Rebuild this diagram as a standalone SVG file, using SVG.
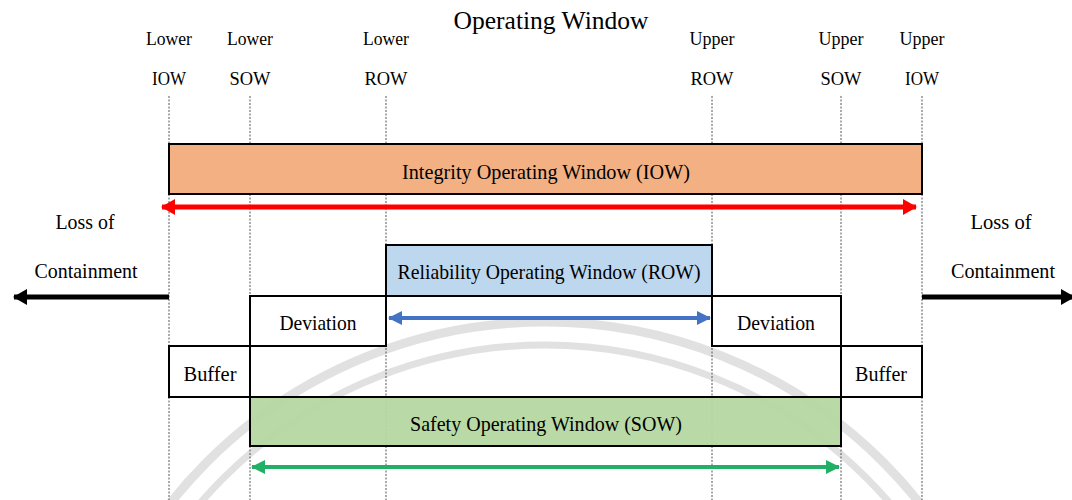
<svg xmlns="http://www.w3.org/2000/svg" width="1072" height="500" viewBox="0 0 1072 500">
  <style>
    text { font-family: "Liberation Serif", "Times New Roman", serif; fill: #000; text-anchor: middle; }
    .lbl { font-size: 18px; }
    .box { stroke: #000; stroke-width: 2; }
    .guide { stroke: #555; stroke-width: 1; stroke-dasharray: 2 1.5; fill: none; }
    .wm { fill: none; stroke: #bdbdbd; stroke-opacity: 0.45; }
    .bt { font-size: 21px; }
  </style>
  <defs>
    <marker id="hRed" viewBox="0 0 14 16" refX="13" refY="8" markerWidth="14" markerHeight="16" markerUnits="userSpaceOnUse" orient="auto-start-reverse">
      <path d="M0,0 L14,8 L0,16 Z" fill="#ff0000"/>
    </marker>
    <marker id="hBlue" viewBox="0 0 14 14" refX="13" refY="7" markerWidth="14" markerHeight="14" markerUnits="userSpaceOnUse" orient="auto-start-reverse">
      <path d="M0,0 L14,7 L0,14 Z" fill="#4472c4"/>
    </marker>
    <marker id="hGreen" viewBox="0 0 14 14" refX="13" refY="7" markerWidth="14" markerHeight="14" markerUnits="userSpaceOnUse" orient="auto-start-reverse">
      <path d="M0,0 L14,7 L0,14 Z" fill="#22b066"/>
    </marker>
    <marker id="hBlack" viewBox="0 0 14 16" refX="13" refY="8" markerWidth="14" markerHeight="16" markerUnits="userSpaceOnUse" orient="auto">
      <path d="M0,0 L14,8 L0,16 Z" fill="#000"/>
    </marker>
  </defs>

  <rect width="1072" height="500" fill="#fff"/>

  <!-- faint background watermark -->
  <g id="watermark">
    <circle class="wm" cx="545" cy="800" r="478" stroke-width="9"/>
    <circle class="wm" cx="545" cy="800" r="455" stroke-width="7"/>
  </g>

  <g id="title"><text x="551" y="29" style="font-size:25px" textLength="195" lengthAdjust="spacingAndGlyphs">Operating Window</text></g>

  <g id="limit-labels">
    <text class="lbl" x="169" y="45" textLength="46" lengthAdjust="spacingAndGlyphs">Lower</text>
    <text class="lbl" x="169" y="85" textLength="34" lengthAdjust="spacingAndGlyphs">IOW</text>
    <text class="lbl" x="250" y="45" textLength="46" lengthAdjust="spacingAndGlyphs">Lower</text>
    <text class="lbl" x="250" y="85" textLength="41" lengthAdjust="spacingAndGlyphs">SOW</text>
    <text class="lbl" x="386" y="45" textLength="46" lengthAdjust="spacingAndGlyphs">Lower</text>
    <text class="lbl" x="386" y="85" textLength="43" lengthAdjust="spacingAndGlyphs">ROW</text>
    <text class="lbl" x="712" y="45" textLength="45" lengthAdjust="spacingAndGlyphs">Upper</text>
    <text class="lbl" x="712" y="85" textLength="43" lengthAdjust="spacingAndGlyphs">ROW</text>
    <text class="lbl" x="841" y="45" textLength="45" lengthAdjust="spacingAndGlyphs">Upper</text>
    <text class="lbl" x="841" y="85" textLength="41" lengthAdjust="spacingAndGlyphs">SOW</text>
    <text class="lbl" x="922" y="45" textLength="45" lengthAdjust="spacingAndGlyphs">Upper</text>
    <text class="lbl" x="922" y="85" textLength="34" lengthAdjust="spacingAndGlyphs">IOW</text>
  </g>

  <g id="guides">
    <line class="guide" x1="169" y1="96" x2="169" y2="500"/>
    <line class="guide" x1="250" y1="96" x2="250" y2="500"/>
    <line class="guide" x1="386" y1="96" x2="386" y2="500"/>
    <line class="guide" x1="712" y1="96" x2="712" y2="500"/>
    <line class="guide" x1="841" y1="96" x2="841" y2="500"/>
    <line class="guide" x1="922" y1="96" x2="922" y2="500"/>
  </g>

  <g id="iow">
    <rect class="box" x="169" y="144" width="753" height="50" fill="#f2b083"/>
    <text class="bt" x="546" y="179" textLength="288" lengthAdjust="spacingAndGlyphs">Integrity Operating Window (IOW)</text>
  </g>

  <g id="row">
    <rect class="box" x="386" y="245" width="326" height="51" fill="#bdd7ee"/>
    <text class="bt" x="549" y="279" textLength="303" lengthAdjust="spacingAndGlyphs">Reliability Operating Window (ROW)</text>
  </g>

  <g id="deviation-left">
    <rect class="box" x="250" y="296" width="136" height="50" fill="#fff"/>
    <text class="bt" x="318" y="330" textLength="77" lengthAdjust="spacingAndGlyphs">Deviation</text>
  </g>
  <g id="deviation-right">
    <rect class="box" x="712" y="296" width="129" height="50" fill="#fff"/>
    <text class="bt" x="776" y="330" textLength="78" lengthAdjust="spacingAndGlyphs">Deviation</text>
  </g>

  <g id="gap-left"><path class="box" d="M386,346 H250 V397 H386" fill="none"/></g>
  <g id="gap-right"><path class="box" d="M712,346 H841 V397 H712" fill="none"/></g>

  <g id="buffer-left">
    <rect class="box" x="169" y="346" width="81" height="51" fill="#fff"/>
    <text class="bt" x="210" y="381" textLength="53" lengthAdjust="spacingAndGlyphs">Buffer</text>
  </g>
  <g id="buffer-right">
    <rect class="box" x="841" y="346" width="81" height="51" fill="#fff"/>
    <text class="bt" x="881" y="381" textLength="52" lengthAdjust="spacingAndGlyphs">Buffer</text>
  </g>

  <g id="sow">
    <rect class="box" x="250" y="397" width="591" height="49" fill="#b5d8a1" fill-opacity="0.95"/>
    <text class="bt" x="546" y="431" textLength="272" lengthAdjust="spacingAndGlyphs">Safety Operating Window (SOW)</text>
  </g>

  <g id="loss-left">
    <text class="bt" x="85" y="229" textLength="59" lengthAdjust="spacingAndGlyphs">Loss of</text>
    <text class="bt" x="86" y="278" textLength="103" lengthAdjust="spacingAndGlyphs">Containment</text>
  </g>
  <g id="loss-right">
    <text class="bt" x="1001" y="229" textLength="61" lengthAdjust="spacingAndGlyphs">Loss of</text>
    <text class="bt" x="1003" y="278" textLength="104" lengthAdjust="spacingAndGlyphs">Containment</text>
  </g>

  <g id="connectors" fill="none">
    <line x1="162" y1="207" x2="916" y2="207" stroke="#ff0000" stroke-width="5" marker-start="url(#hRed)" marker-end="url(#hRed)"/>
    <line x1="389" y1="318" x2="710" y2="318" stroke="#4472c4" stroke-width="4" marker-start="url(#hBlue)" marker-end="url(#hBlue)"/>
    <line x1="252" y1="467" x2="839" y2="467" stroke="#22b066" stroke-width="4" marker-start="url(#hGreen)" marker-end="url(#hGreen)"/>
    <line x1="169" y1="297" x2="14" y2="297" stroke="#000" stroke-width="5" marker-end="url(#hBlack)"/>
    <line x1="922" y1="297" x2="1074" y2="297" stroke="#000" stroke-width="5" marker-end="url(#hBlack)"/>
  </g>
</svg>
